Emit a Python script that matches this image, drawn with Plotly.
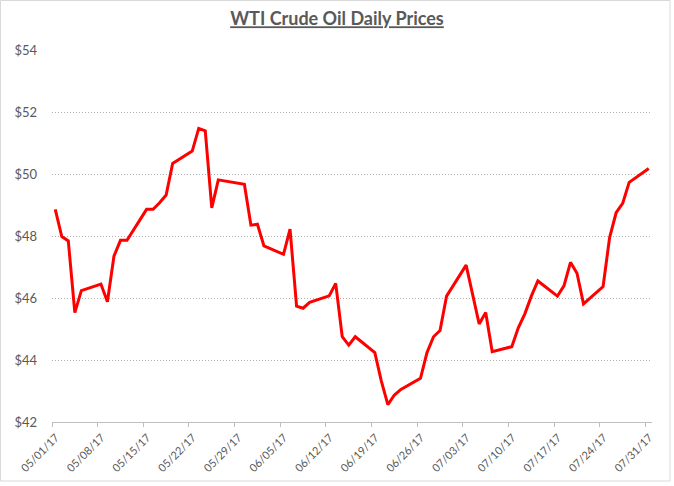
import plotly.graph_objects as go
import pandas as pd

dates = ["2017-05-01","2017-05-02","2017-05-03","2017-05-04","2017-05-05",
         "2017-05-08","2017-05-09","2017-05-10","2017-05-11","2017-05-12",
         "2017-05-15","2017-05-16","2017-05-17","2017-05-18","2017-05-19",
         "2017-05-22","2017-05-23","2017-05-24","2017-05-25","2017-05-26",
         "2017-05-30","2017-05-31","2017-06-01","2017-06-02",
         "2017-06-05","2017-06-06","2017-06-07","2017-06-08","2017-06-09",
         "2017-06-12","2017-06-13","2017-06-14","2017-06-15","2017-06-16",
         "2017-06-19","2017-06-20","2017-06-21","2017-06-22","2017-06-23",
         "2017-06-26","2017-06-27","2017-06-28","2017-06-29","2017-06-30",
         "2017-07-03","2017-07-05","2017-07-06","2017-07-07",
         "2017-07-10","2017-07-11","2017-07-12","2017-07-13","2017-07-14",
         "2017-07-17","2017-07-18","2017-07-19","2017-07-20","2017-07-21",
         "2017-07-24","2017-07-25","2017-07-26","2017-07-27","2017-07-28",
         "2017-07-31"]
prices = [48.86, 47.98, 47.84, 45.53, 46.24,
          46.45, 45.88, 47.35, 47.86, 47.86,
          48.86, 48.86, 49.07, 49.32, 50.34,
          50.74, 51.47, 51.39, 48.91, 49.81,
          49.67, 48.35, 48.38, 47.68,
          47.41, 48.22, 45.74, 45.67, 45.86,
          46.07, 46.47, 44.75, 44.48, 44.75,
          44.24, 43.32, 42.56, 42.87, 43.05,
          43.41, 44.24, 44.75, 44.95, 46.06,
          47.06, 45.16, 45.53, 44.27,
          44.43, 45.04, 45.49, 46.06, 46.55,
          46.06, 46.39, 47.15, 46.80, 45.81,
          46.37, 47.95, 48.75, 49.05, 49.73,
          50.18]

title_text = "WTI Crude Oil Daily Prices"
y_ticks = [42, 44, 46, 48, 50, 52, 54]
y_labels = ["$42", "$44", "$46", "$48", "$50", "$52", "$54"]

# Excel date axis: points centred within each day
x = pd.to_datetime(dates) + pd.Timedelta(hours=12)

fig = go.Figure()
fig.add_trace(go.Scatter(x=x, y=prices, mode="lines",
                         line=dict(color="#FF0000", width=3),
                         hoverinfo="x+y", showlegend=False))

gray = "#595959"
W, H = 674, 486
L, R, T, B = 52, 22, 50, 64
pw, ph = W - L - R, H - T - B
fig.update_layout(
    width=W, height=H,
    margin=dict(l=L, r=R, t=T, b=B),
    paper_bgcolor="white", plot_bgcolor="white",
    font=dict(family="Lato, Calibri, sans-serif", color=gray, size=13),
    title=dict(text="<b><u>" + title_text + "</u></b>", x=0.5, xanchor="center",
               y=1 - 19 / H, yanchor="middle",
               font=dict(size=18, color=gray, family="Lato, Calibri, sans-serif")),
    xaxis=dict(
        type="date", automargin=False,
        range=["2017-05-01", "2017-08-01"],
        tick0="2017-05-01", dtick=7 * 24 * 3600 * 1000,
        tickformat="%m/%d/%y", tickangle=-45,
        showgrid=False, showline=True, linecolor="#BFBFBF", linewidth=1,
        ticks="outside", ticklen=4, tickcolor="#BFBFBF",
        ticklabelshift=4,
        tickfont=dict(size=11, color=gray), zeroline=False,
    ),
    yaxis=dict(
        automargin=False,
        range=[42, 54], tickvals=y_ticks, ticktext=y_labels,
        showgrid=True, gridcolor="#AFAFAF", griddash="1px,2px", gridwidth=1,
        zeroline=False, showline=False, ticks="",
        ticklabelstandoff=14,
        tickfont=dict(size=13, color=gray),
    ),
    shapes=[dict(type="rect", xref="paper", yref="paper",
                 x0=(-L + 0.5) / pw, x1=1 + (R - 4) / pw,
                 y0=(-B + 5) / ph, y1=1 + (T - 0.5) / ph,
                 line=dict(color="#D9D9D9", width=1), layer="below")],
)

fig.write_html("out.html")
